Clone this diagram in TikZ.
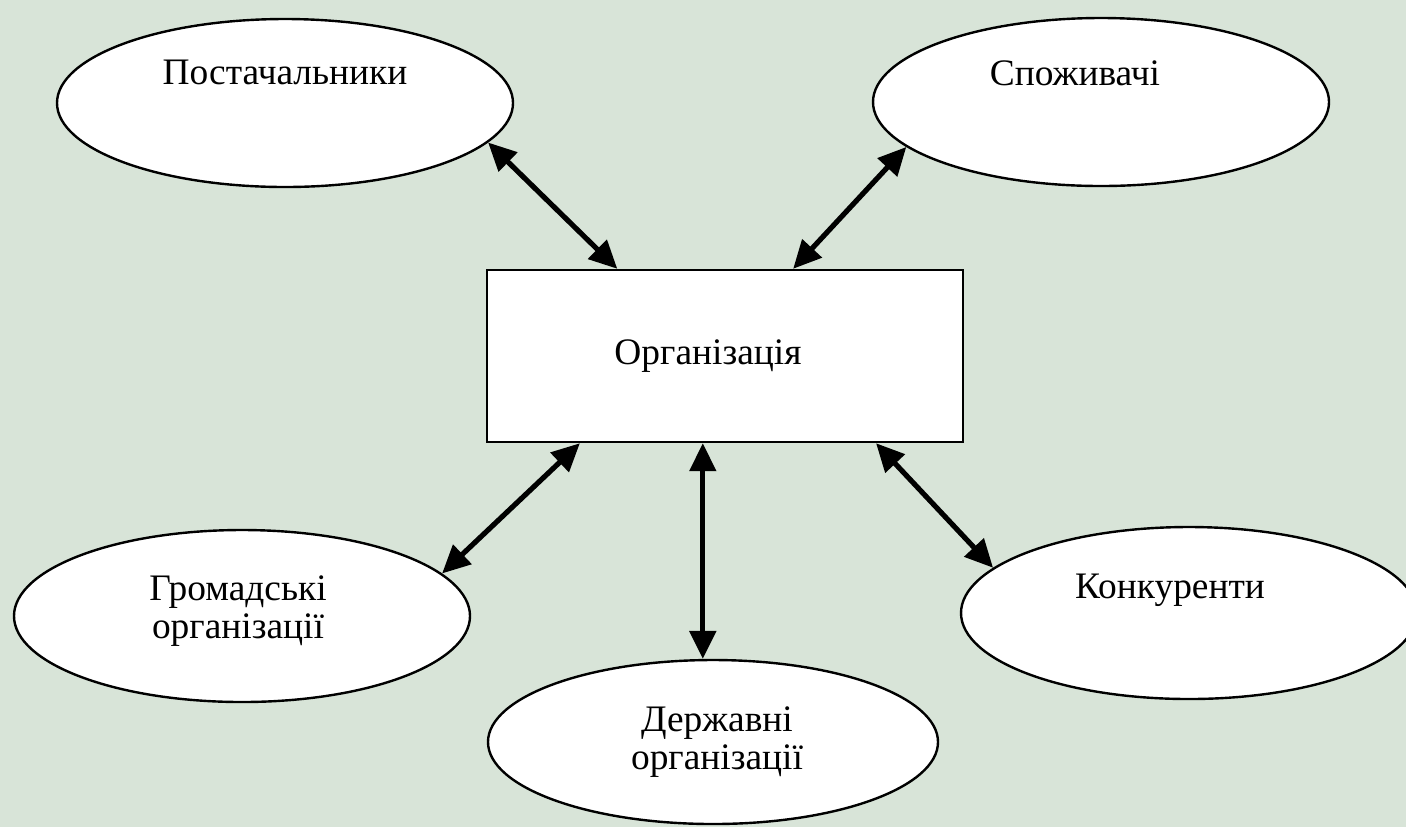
\documentclass[tikz,border=0pt]{standalone}
\usepackage{fontspec}
\setmainfont{Liberation Serif}
\usetikzlibrary{shapes.geometric,arrows.meta}
\definecolor{bgreen}{RGB}{216,228,216}
\tikzset{
  >={Triangle[length=14pt,width=13pt]},
  party/.style={ellipse,draw,fill=white,line width=1.2pt,
    minimum width=228pt,minimum height=84pt,inner sep=0pt},
  firm/.style={rectangle,draw,fill=white,line width=1.2pt,
    minimum width=238pt,minimum height=86pt},
  link/.style={<->,line width=2.6pt},
  txt/.style={font=\fontsize{18.7}{19}\selectfont,align=center}
}

\begin{document}
\begin{tikzpicture}[x=0.5pt,y=-0.5pt]
  \fill[bgreen] (0,0) rectangle (1406,827);
  \path[use as bounding box] (0,0) rectangle (1406,827);

  % centre and surroundings
  \node[firm,txt] (org) at (725,356) {Організація\hspace*{17pt}};
  \node[party,label={[txt,yshift=15.5pt]center:Постачальники}] (sup) at (285,103) {};
  \node[party,label={[txt,xshift=-13pt,yshift=14.5pt]center:Споживачі}] (cus) at (1101,102) {};
  \node[party,minimum height=86pt,
    label={[txt,xshift=-2pt,yshift=2.5pt]center:{Громадські\\організації}}] (pub) at (242,616) {};
  \node[party,minimum width=225pt,minimum height=82pt,
    label={[txt,xshift=2pt]center:{Державні\\організації}}] (gov) at (713,742) {};
  \node[party,minimum height=86pt,
    label={[txt,xshift=-9.5pt,yshift=11.5pt]center:Конкуренти}] (com) at (1189,613) {};

  % links
  \draw[link] (sup.-11) -- (org.141.5);
  \draw[link] (cus.-167) -- (org.52);
  \draw[link] (org.-149) -- (pub.12);
  \draw[link] (org.south -| gov.97) -- (gov.97);
  \draw[link] (org.-30.7) -- (com.167.5);
\end{tikzpicture}
\end{document}
